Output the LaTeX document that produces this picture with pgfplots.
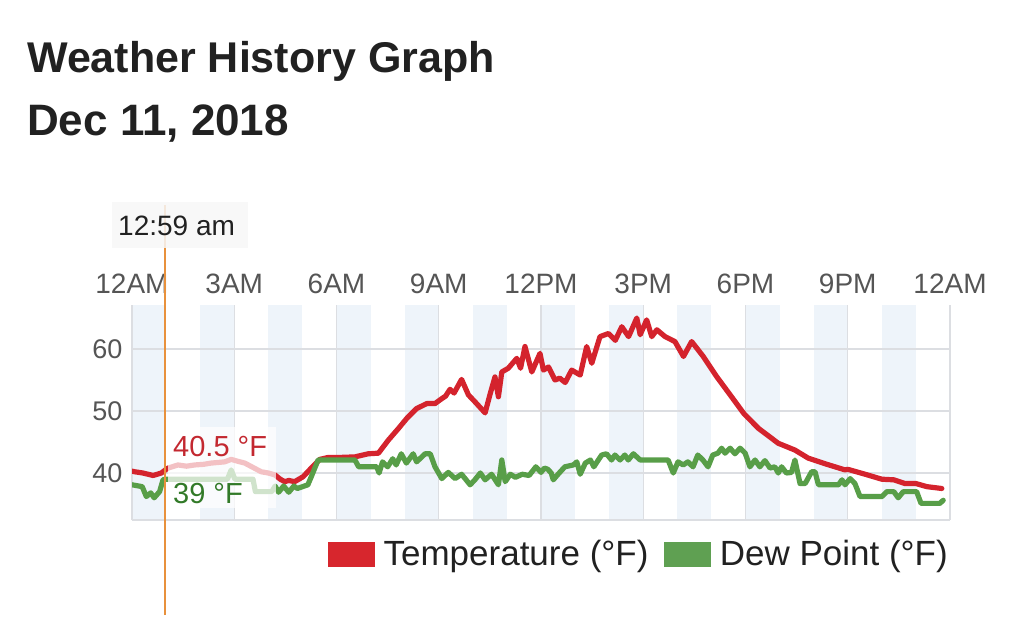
\documentclass[border=0pt]{standalone}
\usepackage{pgfplots}
\pgfplotsset{compat=1.18}
\usepackage{fontspec}
\setmainfont{Liberation Sans}
\definecolor{tempred}{RGB}{212,35,45}
\definecolor{dewgreen}{RGB}{88,158,72}
\definecolor{legred}{RGB}{215,38,45}
\definecolor{leggreen}{RGB}{95,160,82}
\definecolor{stripe}{RGB}{238,244,250}
\definecolor{gridc}{RGB}{220,222,226}
\definecolor{ticktext}{RGB}{85,85,85}
\definecolor{titletext}{RGB}{33,33,33}
\definecolor{tiporange}{RGB}{232,145,60}
\definecolor{tipred}{RGB}{195,40,48}
\definecolor{tipgreen}{RGB}{50,122,40}

\pgfplotstableread{
h T
0.00 40.3
0.08 40.2
0.32 40.0
0.62 39.6
0.86 40.0
0.98 40.5
1.06 40.8
1.35 41.3
1.60 41.1
1.84 41.3
2.10 41.4
2.32 41.6
2.72 41.8
2.91 42.2
3.10 41.9
3.31 41.6
3.55 40.9
3.79 40.2
4.00 40.0
4.19 39.7
4.35 39.0
4.48 38.6
4.60 38.8
4.77 38.6
5.02 39.4
5.26 40.8
5.51 42.2
5.75 42.5
6.04 42.5
6.54 42.6
6.93 43.1
7.23 43.2
7.52 45.3
7.82 47.2
8.06 48.8
8.35 50.4
8.65 51.2
8.89 51.2
9.09 52.0
9.20 52.4
9.33 53.5
9.45 52.9
9.67 55.1
9.87 52.6
10.06 51.5
10.36 49.7
10.50 52.6
10.65 55.5
10.75 52.3
10.85 56.3
11.04 56.9
11.29 58.5
11.40 56.9
11.53 60.4
11.73 56.3
11.97 59.3
12.07 56.6
12.22 57.1
12.41 55.0
12.55 55.3
12.71 54.6
12.90 56.6
13.15 55.8
13.34 60.4
13.49 57.7
13.73 62.0
13.98 62.5
14.18 61.4
14.37 63.6
14.57 62.0
14.81 65.0
14.91 62.3
15.10 64.7
15.25 62.0
15.40 63.1
15.64 62.0
15.93 61.2
16.18 58.8
16.42 61.2
16.76 58.8
17.16 55.5
17.55 52.6
17.95 49.6
18.38 47.2
18.96 44.8
19.45 43.7
19.84 42.4
20.33 41.5
20.92 40.5
21.00 40.6
21.51 39.8
22.00 39.0
22.35 38.9
22.68 38.3
23.00 38.3
23.32 37.8
23.76 37.5
}\temptable

\pgfplotstableread{
h D
0.00 38.1
0.30 37.8
0.42 36.2
0.55 36.8
0.65 36.0
0.81 37.0
0.91 38.9
0.98 39.0
2.80 39.0
2.91 40.5
3.02 39.0
3.55 39.0
3.62 37.0
4.10 37.0
4.20 37.9
4.30 36.9
4.45 37.9
4.60 36.9
4.75 37.9
4.85 37.5
5.16 38.1
5.26 39.4
5.46 42.1
6.54 42.1
6.65 41.0
7.18 41.0
7.25 40.0
7.35 41.8
7.50 41.0
7.65 42.3
7.75 41.3
7.90 43.1
8.05 41.6
8.25 43.1
8.35 41.8
8.60 43.1
8.75 43.1
8.89 41.0
9.09 39.1
9.28 40.1
9.48 39.1
9.67 39.8
9.92 38.1
10.06 38.9
10.22 40.0
10.36 38.9
10.55 39.8
10.75 38.1
10.85 42.1
10.95 38.6
11.10 39.8
11.25 39.3
11.45 39.8
11.65 39.6
11.85 41.0
12.00 40.1
12.10 40.8
12.20 40.6
12.30 40.0
12.36 38.9
12.50 39.8
12.70 41.0
12.95 41.3
13.05 41.8
13.15 39.8
13.30 41.6
13.45 42.1
13.55 41.0
13.78 42.9
13.92 43.1
14.07 42.1
14.17 42.9
14.32 42.1
14.46 42.9
14.56 42.1
14.71 43.1
14.91 42.1
15.73 42.1
15.88 40.0
16.02 41.8
16.17 41.3
16.31 41.8
16.46 41.0
16.60 42.9
16.75 42.1
16.90 41.0
17.04 42.9
17.19 43.2
17.30 44.0
17.40 43.2
17.55 44.0
17.69 43.1
17.84 44.0
17.99 43.2
18.13 41.0
18.28 42.1
18.42 41.0
18.57 42.0
18.72 40.8
18.86 41.0
18.96 40.0
19.06 41.0
19.20 40.0
19.35 40.1
19.45 42.1
19.60 38.3
19.75 38.3
19.94 40.2
20.04 40.2
20.14 38.1
20.73 38.1
20.83 38.9
20.92 38.1
21.07 39.1
21.21 38.3
21.36 36.2
22.00 36.2
22.15 37.0
22.35 37.0
22.48 36.0
22.63 37.0
23.02 37.0
23.15 35.1
23.70 35.1
23.80 35.6
}\dewtable

\begin{document}
\begin{tikzpicture}
% titles
\node[anchor=base west, inner sep=0pt, text=titletext, font={\fontsize{43}{46}\selectfont\bfseries}] at (27pt,{615pt-73pt}) {Weather History Graph};
\node[anchor=base west, inner sep=0pt, text=titletext, font={\fontsize{44}{46}\selectfont\bfseries}] at (27pt,{615pt-136pt}) {Dec 11, 2018};

\begin{axis}[
  set layers,
  at={(132pt,95pt)}, anchor=south west,
  scale only axis, width=818pt, height=215pt,
  xmin=0, xmax=24, ymin=32.42, ymax=67.1,
  xtick={0,3,...,24},
  xticklabels={12AM,3AM,6AM,9AM,12PM,3PM,6PM,9PM,12AM},
  xticklabel pos=top,
  ytick={40,50,60},
  /pgf/number format/assume math mode=true,
  major tick length=0pt,
  tick style={draw=none},
  xticklabel style={text=ticktext, font={\fontsize{28}{30}\selectfont}, yshift=8pt},
  yticklabel style={text=ticktext, font={\fontsize{27}{30}\selectfont}, xshift=-6pt},
  grid=major,
  grid style={draw=gridc, line width=1.3pt},
  axis line style={draw=none},
  legend columns=2,
  legend style={at={(1,-0.085)}, anchor=north east, draw=none, fill=none,
    font={\fontsize{35}{37}\selectfont}, text=titletext,
    /tikz/every even column/.append style={column sep=14pt},
    inner sep=0pt},
  legend image code/.code={\fill[#1] (0pt,-12pt) rectangle (46pt,12pt); \path (53pt,0pt);},
]
\begin{pgfonlayer}{axis background}
\pgfplotsinvokeforeach{0,2,...,22}{
  \fill[stripe] (axis cs:#1,32.42) rectangle (axis cs:#1+1,67.1);
}
\draw[gridc, line width=1.5pt] (rel axis cs:0,0) -- (rel axis cs:1,0);
\draw[gridc, line width=1.5pt] (rel axis cs:0,0) -- (rel axis cs:0,1);
\draw[gridc, line width=1.5pt] (rel axis cs:1,0) -- (rel axis cs:1,1);
\end{pgfonlayer}
\addplot[color=tempred, line width=5.2pt, line join=round, line cap=round, forget plot] table[x=h, y=T] {\temptable};
\addplot[color=dewgreen, line width=5.2pt, line join=round, line cap=round, forget plot] table[x=h, y=D] {\dewtable};
\addlegendimage{color=legred}
\addlegendentry{Temperature (°F)}
\addlegendimage{color=leggreen}
\addlegendentry{Dew Point (°F)}
\end{axis}

% cursor line and tooltips
\draw[tiporange, line width=2pt] (164.5pt,0pt) -- (164.5pt,{615pt-205pt});
\fill[gray!6, opacity=0.85] (112pt,{615pt-202pt}) rectangle (248pt,{615pt-248pt});
\node[anchor=west, inner sep=0pt, text=titletext, font={\fontsize{28}{30}\selectfont}] at (118pt,{615pt-226pt}) {12:59 am};
\fill[white, opacity=0.72] (168pt,{615pt-427pt}) rectangle (276pt,{615pt-508pt});
\node[anchor=west, inner sep=0pt, text=tipred, font={\fontsize{29}{31}\selectfont}] at (173pt,{615pt-447pt}) {40.5 °F};
\node[anchor=west, inner sep=0pt, text=tipgreen, font={\fontsize{29}{31}\selectfont}] at (173pt,{615pt-494pt}) {39 °F};
\path (0pt,0pt) rectangle (1024pt,615pt);
\end{tikzpicture}
\end{document}
